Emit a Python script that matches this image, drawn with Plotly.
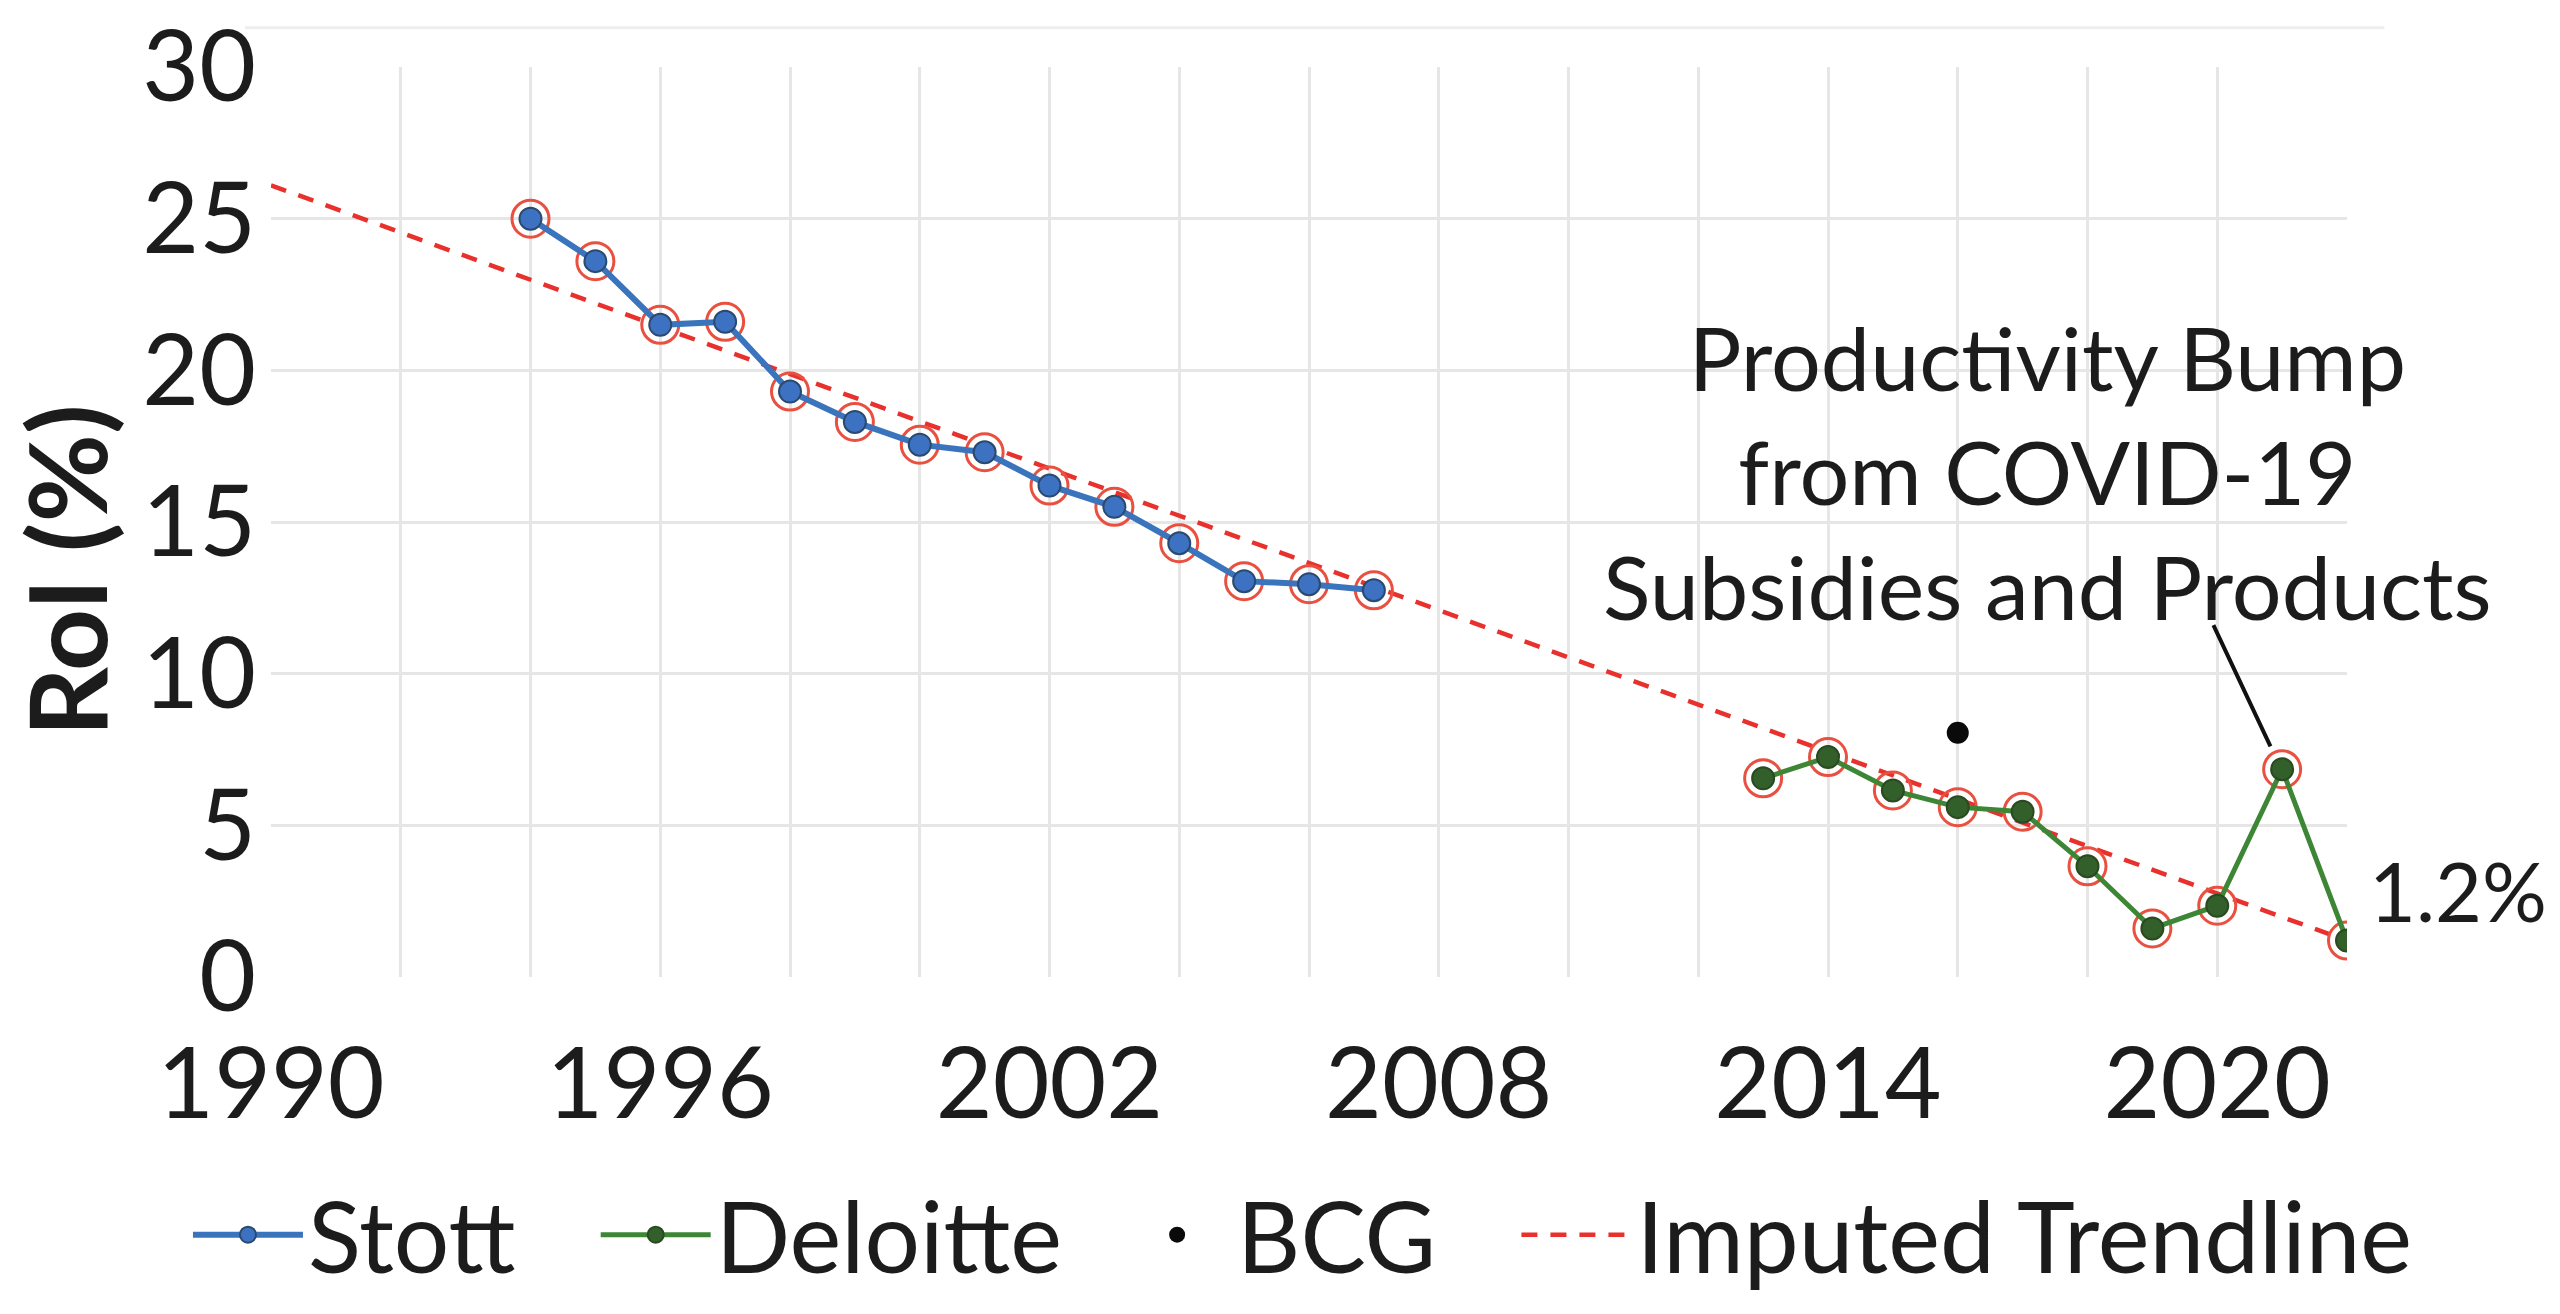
import plotly.graph_objects as go

# ---- data ----
stott_years = [1994, 1995, 1996, 1997, 1998, 1999, 2000, 2001, 2002, 2003, 2004, 2005, 2006, 2007]
stott_roi = [25.0, 23.6, 21.5, 21.6, 19.3, 18.3, 17.55, 17.3, 16.2, 15.5, 14.3, 13.05, 12.95, 12.75]

deloitte_years = [2013, 2014, 2015, 2016, 2017, 2018, 2019, 2020, 2021, 2022]
deloitte_roi = [6.55, 7.25, 6.15, 5.6, 5.45, 3.65, 1.6, 2.35, 6.85, 1.2]

bcg_years = [2016]
bcg_roi = [8.05]

trend_years = [1990, 2022]
trend_roi = [26.1, 1.2]

x_tick_vals = [1990, 1996, 2002, 2008, 2014, 2020]
x_tick_text = ["1990", "1996", "2002", "2008", "2014", "2020"]
y_tick_vals = [0, 5, 10, 15, 20, 25, 30]

note_text = "Productivity Bump<br>from COVID-19<br>Subsidies and Products"

FONT = "Lato"
INK = "#1c1c1c"
BLUE_LINE = "#3a74bd"
BLUE_DOT = "#3d72c2"
GREEN_LINE = "#3d8636"
GREEN_DOT = "#335f2a"
RED = "#e8302d"
RING = "#e9503f"
NB = "\u00a0"

fig = go.Figure()

fig.add_trace(go.Scatter(
    x=trend_years, y=trend_roi, mode="lines", name="Imputed Trendline",
    line=dict(color=RED, width=4.5, dash="16px,13px"),
    legendrank=4,
))

ring_x = stott_years + deloitte_years
ring_y = stott_roi + deloitte_roi
fig.add_trace(go.Scatter(
    x=ring_x, y=ring_y, mode="markers", showlegend=False, hoverinfo="skip",
    marker=dict(symbol="circle-open", size=37, color=RING, line=dict(width=3, color=RING)),
))

fig.add_trace(go.Scatter(
    x=stott_years, y=stott_roi, mode="lines+markers", name="Stott" + NB * 3,
    line=dict(color=BLUE_LINE, width=6),
    marker=dict(size=22, color=BLUE_DOT, line=dict(width=2, color="#2b4a70")),
    legendrank=1,
))

fig.add_trace(go.Scatter(
    x=deloitte_years, y=deloitte_roi, mode="lines+markers", name="Deloitte" + NB * 2,
    line=dict(color=GREEN_LINE, width=5),
    marker=dict(size=22, color=GREEN_DOT, line=dict(width=2, color="#2a4a22")),
    legendrank=2,
))

fig.add_trace(go.Scatter(
    x=bcg_years, y=bcg_roi, mode="markers", name="BCG" + NB * 3,
    marker=dict(size=22, color="#0a0a0a"),
    legendrank=3,
))

grid = "#e6e6e6"
fig.update_xaxes(
    range=[1990, 2022], tickmode="array", tickvals=x_tick_vals, ticktext=x_tick_text,
    showgrid=True, gridcolor=grid, gridwidth=3, zeroline=False, showline=False,
    tickfont=dict(family=FONT, size=98, color=INK), ticks="", ticklabelstandoff=42,
    minor=dict(dtick=2, tick0=1990, showgrid=True, gridcolor=grid, gridwidth=3),
)
fig.update_yaxes(
    range=[0, 30], tickmode="array", tickvals=y_tick_vals,
    showgrid=True, gridcolor=grid, gridwidth=3, zeroline=False, showline=False,
    tickfont=dict(family=FONT, size=98, color=INK), ticks="", ticklabelstandoff=14,
)

annotations = [
    dict(text="RoI (%)", textangle=-90, xref="paper", yref="paper", x=-0.099, y=0.447,
         xanchor="center", yanchor="middle", showarrow=False,
         font=dict(family=FONT, size=108, color=INK, weight=700)),
    dict(text="", xref="x", yref="y", x=2020.82, y=7.6, axref="x", ayref="y",
         ax=2019.93, ay=11.65, showarrow=True, arrowhead=0, arrowwidth=4, arrowcolor="#111111"),
    dict(text="1.2%", xref="x", yref="y", x=2022, y=1.2, xanchor="left", yanchor="middle",
         xshift=20, yshift=50, showarrow=False,
         font=dict(family=FONT, size=81, color=INK)),
    dict(text=note_text, xref="x", yref="y", x=2017.38, y=16.67, xanchor="center",
         yanchor="middle", align="center", showarrow=False,
         font=dict(family=FONT, size=88, color=INK)),
]

fig.update_layout(
    width=2560, height=1314,
    margin=dict(l=271, r=213, t=67, b=337, autoexpand=False),
    paper_bgcolor="white", plot_bgcolor="white",
    showlegend=True,
    legend=dict(orientation="h", x=-0.04, xanchor="left", y=-0.2835, yanchor="middle",
                font=dict(family=FONT, size=98, color=INK), itemwidth=110,
                traceorder="normal", bgcolor="rgba(0,0,0,0)"),
    annotations=annotations,
    shapes=[dict(type="line", xref="paper", yref="paper", x0=-0.0125, x1=1.018, y0=1.043, y1=1.043,
                 line=dict(color="#eeeeee", width=3), layer="below")],
)

fig.write_html("out.html", config={"displayModeBar": False},
               post_script="document.body.style.margin='0';")
